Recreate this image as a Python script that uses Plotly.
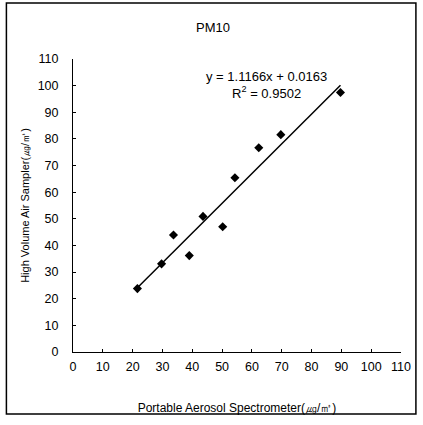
import plotly.graph_objects as go

# Data
x_vals = [21.6, 29.7, 33.7, 39.0, 43.6, 50.2, 54.3, 62.3, 69.7, 89.7]
y_vals = [23.8, 33.1, 43.9, 36.2, 50.9, 47.0, 65.4, 76.7, 81.6, 97.4]
slope = 1.1166
intercept = 0.0163
fit_x = [21.6, 89.7]
fit_y = [slope * v + intercept for v in fit_x]
tick_vals = list(range(0, 111, 10))

font_family = "Liberation Sans, Arial, sans-serif"

fig = go.Figure()
fig.add_trace(go.Scatter(x=fit_x, y=fit_y, mode="lines",
                         line=dict(color="black", width=1.5), showlegend=False))
fig.add_trace(go.Scatter(x=x_vals, y=y_vals, mode="markers",
                         marker=dict(symbol="diamond", size=7, color="black"),
                         showlegend=False))

fig.update_layout(
    width=423, height=425,
    margin=dict(l=73, r=20, t=59, b=73),
    paper_bgcolor="white", plot_bgcolor="white",
    font=dict(family=font_family, size=11, color="black"),
    title=dict(text="PM10", x=(213) / 423, xanchor="center", y=1 - 27 / 425,
               yanchor="middle", font=dict(size=13)),
    xaxis=dict(range=[0, 110], tickvals=tick_vals, showgrid=False, zeroline=False,
               showline=True, linecolor="black", linewidth=1,
               ticks="inside", ticklen=3, tickcolor="black",
               ticklabelstandoff=3, tickfont=dict(size=12.5),
               title=dict(text="Portable Aerosol Spectrometer(㎍/㎥)",
                          font=dict(size=12), standoff=30)),
    yaxis=dict(range=[0, 110], tickvals=tick_vals, showgrid=False, zeroline=False,
               showline=True, linecolor="black", linewidth=1,
               ticks="inside", ticklen=3, tickcolor="black",
               ticklabelstandoff=11, tickfont=dict(size=12.5),
               title=dict(text="High Volume Air Sampler(㎍/㎥)",
                          font=dict(size=11), standoff=5)),
    annotations=[
        dict(text="y = 1.1166x + 0.0163<br>R<sup>2</sup> = 0.9502",
             x=(268 - 73) / 330, y=(352 - 85) / 293, xref="paper", yref="paper",
             xanchor="center", yanchor="middle",
             showarrow=False, font=dict(size=13), align="center"),
    ],
    shapes=[
        dict(type="rect", xref="paper", yref="paper",
             x0=(6 - 73) / 330, x1=(418 - 73) / 330,
             y0=(352 - 414) / 293, y1=(352 - 3) / 293,
             line=dict(color="black", width=1.5)),
    ],
)

fig.write_html("out.html", config={"displayModeBar": False},
               post_script="document.body.style.margin='0';")
